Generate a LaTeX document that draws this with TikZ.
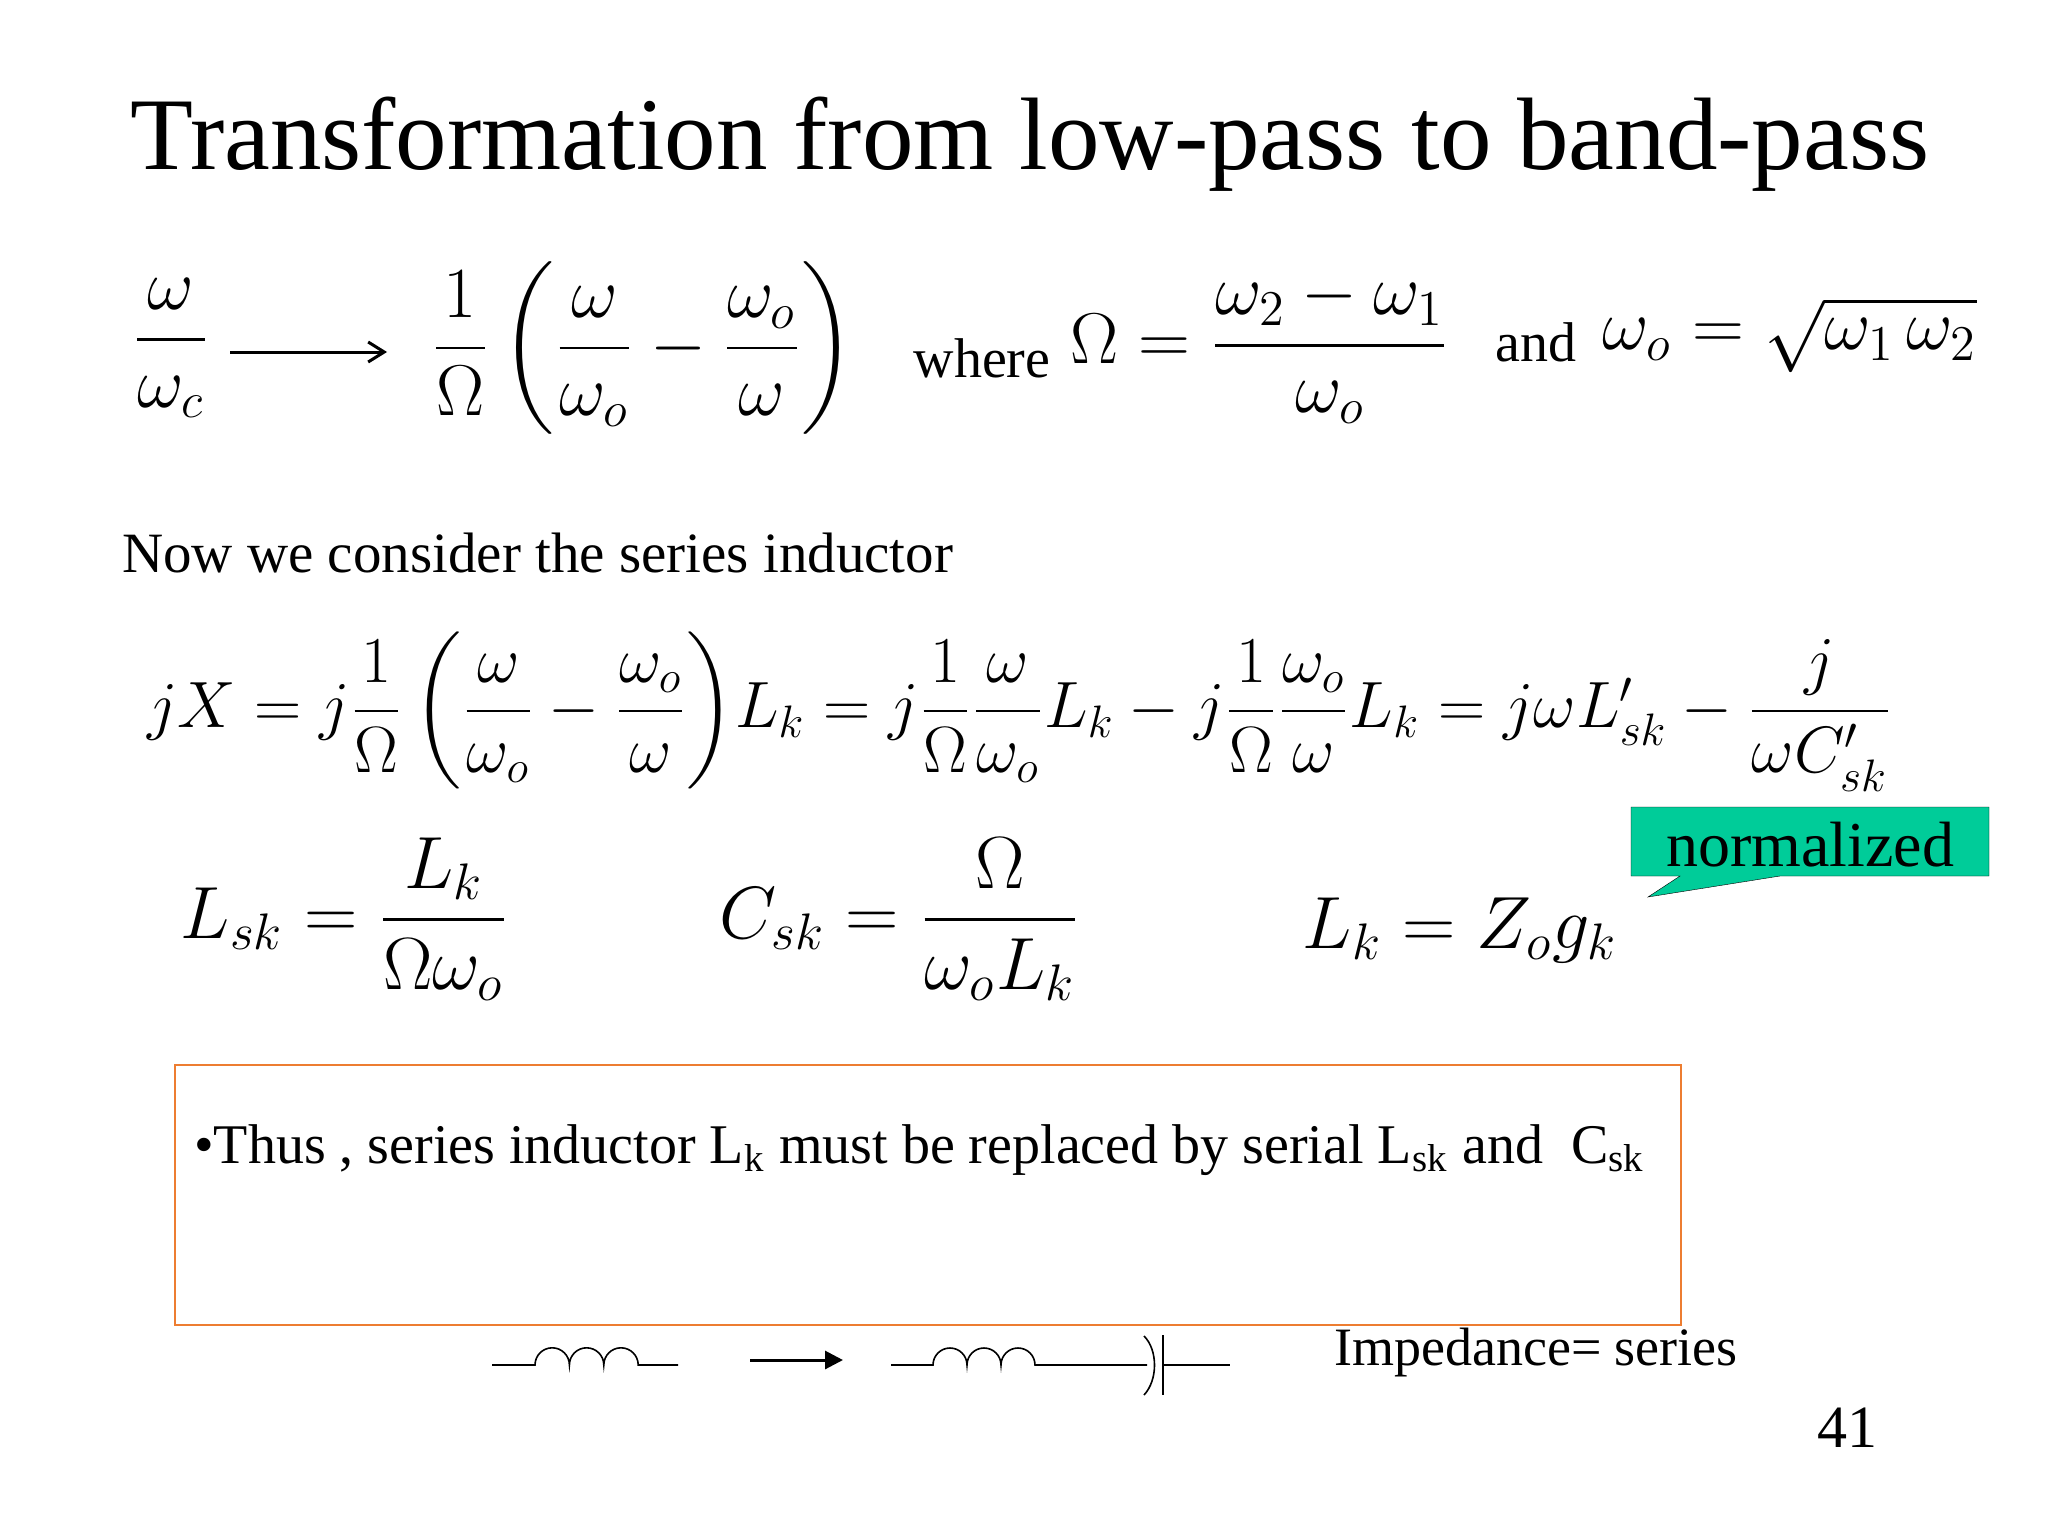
\documentclass[tikz,border=0pt]{standalone}
\usepackage{amsmath}
\usepackage{graphicx}
\usepackage{fontspec}
\setmainfont{Liberation Serif}
\usetikzlibrary{arrows.meta}
\newcommand{\fs}[2]{\scalebox{\fpeval{#1/17.28}}{\fontsize{17.28}{20}\selectfont #2}}
\begin{document}
\begin{tikzpicture}[x=1pt,y=-1pt,
  txt/.style={inner sep=0pt},
  wire/.style={line width=1.6pt}]
\useasboundingbox[fill=white] (0,0) rectangle (2048,1536);
\node[txt] (title) at (1030,144) {\fs{103}{Transformation from low-pass to band-pass}};
% row 1
\node[txt] (f1) at (171,348) {\fs{72}{$\dfrac{\omega}{\omega_c}$}};
\coordinate (a1) at (230,352); \coordinate (a2) at (387,352);
\draw[line width=3pt,-{Straight Barb[length=16pt,width=20pt]}] (a1) -- (a2);
\node[txt] (f2) at (643,348) {\fs{72}{$\dfrac{1}{\Omega}\left(\dfrac{\omega}{\omega_o}-\dfrac{\omega_o}{\omega}\right)$}};
\node[txt] (wh) at (982,358) {\fs{56}{where}};
\node[txt] (f3) at (1260,348) {\fs{72}{$\Omega=\dfrac{\omega_2-\omega_1}{\omega_o}$}};
\node[txt] (and) at (1536,342) {\fs{56}{and}};
\node[txt] (f4) at (1790,335) {\fs{72}{$\omega_o=\sqrt{\omega_1\,\omega_2}$}};
\node[txt,anchor=west] (now) at (122,553) {\fs{57}{Now we consider the series inductor}};
% row 2
\node[txt] (eq) at (1020,712) {\fs{65.5}{$jX=j\dfrac{1}{\Omega}\left(\dfrac{\omega}{\omega_o}-\dfrac{\omega_o}{\omega}\right)\!L_k=j\dfrac{1}{\Omega}\dfrac{\omega}{\omega_o}L_k-j\dfrac{1}{\Omega}\dfrac{\omega_o}{\omega}L_k=j\omega L'_{sk}-\dfrac{j}{\omega C'_{sk}}$}};
% row 3
\node[txt] (lsk) at (345,919) {\fs{74}{$L_{sk}=\dfrac{L_k}{\Omega\omega_o}$}};
\node[txt] (csk) at (900,919) {\fs{74}{$C_{sk}=\dfrac{\Omega}{\omega_o L_k}$}};
\node[txt] (lk) at (1460,930) {\fs{74}{$L_k=Z_o g_k$}};
% normalized callout
\draw[fill={rgb,255:red,0;green,204;blue,153}] (1631,807) -- (1989,807) -- (1989,876) -- (1780,876) -- (1648,897) -- (1680,876) -- (1631,876) -- cycle;
\node[txt] (norm) at (1810,845) {\fs{64}{normalized}};
% orange box
\draw[line width=2pt,draw={rgb,255:red,237;green,125;blue,49}] (175,1065) rectangle (1681,1325);
\node[txt,anchor=west] (bul) at (194,1150) {\fs{56}{•Thus , series inductor L\textsubscript{k} must be replaced by serial L\textsubscript{sk} and\enspace C\textsubscript{sk}}};
% circuit
\coordinate (i1a) at (492,1365); \coordinate (i1b) at (535,1365);
\coordinate (i1d) at (678,1365);
\draw[wire] (i1a) -- (i1b) arc[start angle=180,end angle=360,radius=17.2] arc[start angle=180,end angle=360,radius=17.2] arc[start angle=180,end angle=360,radius=17.2] -- (i1d);
\coordinate (b1) at (750,1360); \coordinate (b2) at (843,1360);
\draw[line width=3pt,-{Triangle[length=18pt,width=18pt]}] (b1) -- (b2);
\coordinate (i2a) at (891,1365); \coordinate (i2b) at (933,1365);
\coordinate (i2d) at (1147,1365);
\draw[wire] (i2a) -- (i2b) arc[start angle=180,end angle=360,radius=17] arc[start angle=180,end angle=360,radius=17] arc[start angle=180,end angle=360,radius=17] -- (i2d);
\draw[wire] (1144,1336) .. controls (1158,1350) and (1158,1380) .. (1144,1395);
\coordinate (p1) at (1163,1335); \coordinate (p2) at (1163,1395);
\draw[wire] (p1) -- (p2);
\coordinate (c1) at (1163,1365); \coordinate (c2) at (1230,1365);
\draw[wire] (c1) -- (c2);
\node[txt] (imp) at (1536,1352) {\fs{54}{Impedance= series}};
\node[txt] (pg) at (1847,1428) {\fs{60}{41}};
\end{tikzpicture}
\end{document}
